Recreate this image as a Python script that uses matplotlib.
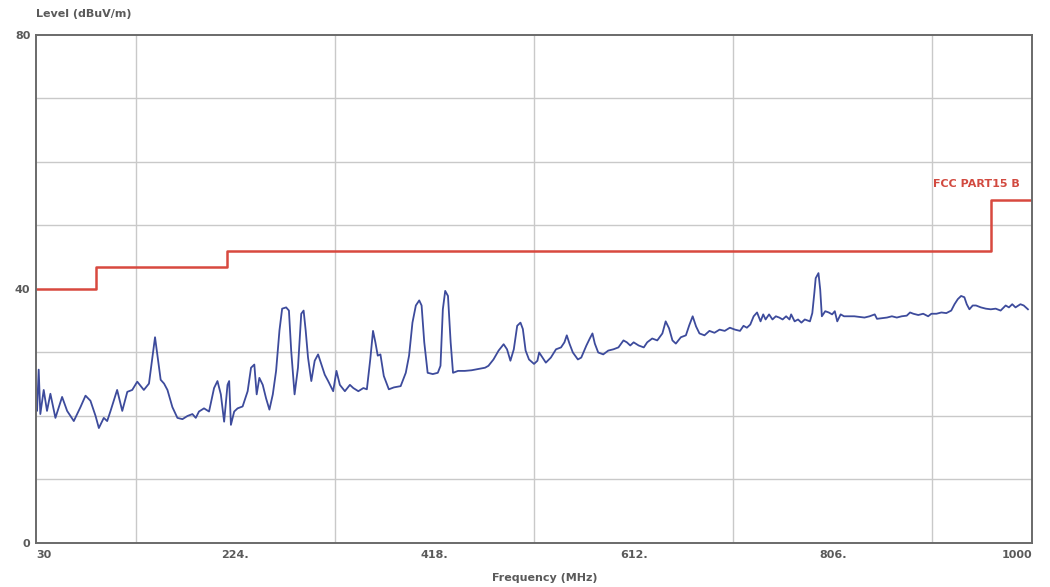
import numpy as np
import matplotlib
matplotlib.use('Agg')
import matplotlib.pyplot as plt

freq = [30, 31, 32.6, 34.2, 37.5, 40.7, 44, 48.9, 55.4, 60.3, 66.8, 73.3, 78.2, 83, 88, 91.2, 96, 99.3, 102.6,
	109, 114, 118.9, 123.7, 128.6, 135, 140, 145.9, 151.4, 154.7, 158, 162.8, 167.7, 172.6, 177.5, 182.3, 185.6,
	188.7, 193.6, 198.5, 203.4, 206.7, 210, 213.2, 216.5, 218.1, 219.8, 223, 226.3, 231.2, 236.1, 239.4, 242.6,
	244.9, 247.5, 250.8, 254, 257.3, 260.6, 263.8, 267.1, 269.7, 273.6, 276.3, 278.5, 281.8, 285.1, 288.3, 290.6,
	292.6, 294.9, 298.1, 301.4, 304.7, 307.9, 311.2, 314.5, 319.4, 322.6, 325.9, 330.8, 335.7, 339, 343.9, 348.8,
	352.2, 355.5, 358.2, 360.5, 362.8, 365.4, 368.7, 373.6, 378.5, 385.1, 390.1, 393.3, 396.6, 399.9, 403.2, 405.5,
	408.1, 411.4, 416.4, 421.3, 423.9, 426.2, 428.5, 431.2, 433.8, 436.1, 441, 447.6, 454.2, 460.7, 467.3, 470.6,
	475.5, 480.5, 485.4, 488.7, 492, 495.3, 498.6, 501.8, 504.1, 506.8, 510.1, 515, 518.3,
	520, 523.2, 526.5, 531.4, 536.4, 541.3, 544.6, 546.9, 549.5, 552.8, 557.7, 561, 566, 569.3, 571.9, 574.2,
	577.5, 582.4, 587.3, 592.3, 597.2, 602.1, 605.4, 608.7, 612, 616.9, 621.9, 625.2, 630.1, 635, 640, 643.2,
	646.5, 649.8, 653.1, 658, 662.9, 666.2, 669.5, 672.8, 676.1, 681,
	685.8, 690.7, 695.7, 700.7, 705.7, 710.7, 715.6, 719, 722.3, 725.6, 728.9, 732.2, 735.6, 738.2, 740.5, 743.9,
	747.2, 750.5, 753.8, 757.1, 760.5, 763.8, 765.4, 768.8, 772.1, 775.4, 778.7, 783.7, 786, 788, 789.3, 792,
	793.7, 795.3, 798.6, 802, 805.3, 807.9, 810.3, 813.6, 816.9, 821.9, 826.9, 831.8, 836.8, 841.8, 846.8,
	849, 853.9, 858.7, 863.5, 868.3, 873.1, 878, 881.2, 884.4, 889.2, 894, 898.8, 902, 906.9, 911.7, 916.5,
	921.3, 924.5, 927.7, 930.9, 934.1, 936.4, 939, 942.2, 945.4, 950.2, 955, 959.8, 964.6, 969.4, 974.3, 977.5,
	980.7, 983.9, 988.7, 991.9, 996]
level = [21, 20.8, 27.3, 20.3, 24.1, 20.8, 23.5, 19.7, 23.0, 20.8, 19.2, 21.4, 23.2, 22.4, 20.0, 18.1, 19.7, 19.2, 20.8,
	24.1, 20.8, 23.8, 24.1, 25.4, 24.1, 25.1, 32.4, 25.7, 25.1, 24.1, 21.4, 19.7, 19.5, 20.0, 20.3, 19.7,
	20.7, 21.2, 20.7, 24.4, 25.5, 23.4, 19.1, 24.9, 25.5, 18.6, 20.7, 21.2, 21.5, 23.9, 27.6, 28.1,
	23.4, 26.0, 24.9, 22.8, 21.0, 23.4, 27.1, 33.5, 36.9, 37.1, 36.6, 30.3, 23.4, 27.6, 36.1, 36.6,
	33.5, 29.2, 25.5, 28.7, 29.7, 28.1, 26.5, 25.5, 23.9, 27.1, 24.9, 23.9, 24.9, 24.4, 23.9, 24.4,
	24.2, 28.9, 33.4, 31.6, 29.5, 29.7, 26.3, 24.2, 24.5, 24.7, 26.8, 29.5, 34.7, 37.4, 38.2, 37.4,
	31.6, 26.8, 26.6, 26.8, 27.9, 36.8, 39.7, 38.9, 31.6, 26.8, 27.1, 27.1, 27.2, 27.4, 27.6, 27.9,
	28.9, 30.3, 31.3, 30.5, 28.7, 30.5, 34.2, 34.7, 33.7, 30.3, 28.9, 28.2, 28.7,
	30.0, 29.2, 28.4, 29.2, 30.5, 30.8, 31.6, 32.7, 31.4, 30.0, 28.9, 29.2, 31.1, 32.2, 33.0, 31.4,
	30.0, 29.7, 30.3, 30.5, 30.8, 31.9, 31.6, 31.1, 31.6, 31.1, 30.8, 31.6, 32.2, 31.9, 33.0, 34.9,
	33.8, 31.9, 31.4, 32.4, 32.7, 34.3, 35.7, 34.1, 33.0, 32.7,
	33.4, 33.1, 33.6, 33.4, 33.9, 33.6, 33.4, 34.2, 33.9, 34.4, 35.7, 36.3, 34.9, 36.0, 35.2, 36.0,
	35.2, 35.7, 35.5, 35.2, 35.7, 35.2, 36.0, 34.9, 35.2, 34.7, 35.2, 34.9, 36.2, 39.4, 41.7, 42.5,
	39.9, 35.7, 36.5, 36.3, 36.0, 36.5, 34.9, 36.0, 35.7, 35.7, 35.7, 35.6, 35.5, 35.7, 36.0,
	35.3, 35.4, 35.5, 35.7, 35.5, 35.7, 35.8, 36.3, 36.1, 35.9, 36.1, 35.7, 36.1, 36.1, 36.3, 36.2,
	36.6, 37.6, 38.4, 38.9, 38.7, 37.6, 36.8, 37.4, 37.4, 37.1, 36.9, 36.8, 36.9, 36.6, 37.4, 37.1,
	37.6, 37.1, 37.6, 37.4, 36.8]

# FCC part 15 class B limit (stepped)
limit_freq = [30, 88, 216, 960, 1000]
limit_level = [40, 43.5, 46, 54, 54]
limit_name = 'FCC PART15 B'

xtick_pos = [30, 224, 418, 612, 806, 1000]
xtick_labels = ['30', '224.', '418.', '612.', '806.', '1000']
ytick_pos = [0, 40, 80]

grey = '#5a5a5a'

fig = plt.figure(figsize=(10.5, 5.87), dpi=100)
ax = fig.add_axes([0.0343, 0.075, 0.9486, 0.8654])

# grid: 10 columns, 8 rows
ax.set_xticks(np.linspace(30, 1000, 11), minor=True)
ax.set_yticks(np.arange(0, 81, 10), minor=True)
ax.grid(which='minor', color='#c9c9c9', linewidth=1.0)
ax.set_axisbelow(True)

ax.step(limit_freq, limit_level, where='post', color='#d8493f', linewidth=1.8)
ax.plot(freq, level, color='#3d4b9c', linewidth=1.3)
ax.text(988, 56.6, limit_name, color='#d24a40', fontsize=8, fontweight='bold', ha='right', va='center')

ax.set_xlim(30, 1000)
ax.set_ylim(0, 80)
ax.set_xticks(xtick_pos)
ax.set_xticklabels(xtick_labels)
ax.set_yticks(ytick_pos)
ax.tick_params(which='both', length=0, labelsize=8, labelcolor=grey)
ax.tick_params(axis='x', pad=5)
ax.tick_params(axis='y', pad=4)
for lab in ax.get_xticklabels() + ax.get_yticklabels():
	lab.set_fontweight('bold')
ax.get_xticklabels()[0].set_horizontalalignment('left')
ax.get_xticklabels()[-1].set_horizontalalignment('right')

for sp in ax.spines.values():
	sp.set_color('#6a6a6a')
	sp.set_linewidth(1.4)

fig.text(0.034, 0.976, 'Level (dBuV/m)', fontsize=8, fontweight='bold', color=grey, ha='left', va='center')
fig.text(0.519, 0.016, 'Frequency (MHz)', fontsize=8, fontweight='bold', color=grey, ha='center', va='center')

fig.savefig('out.png', dpi=100)
